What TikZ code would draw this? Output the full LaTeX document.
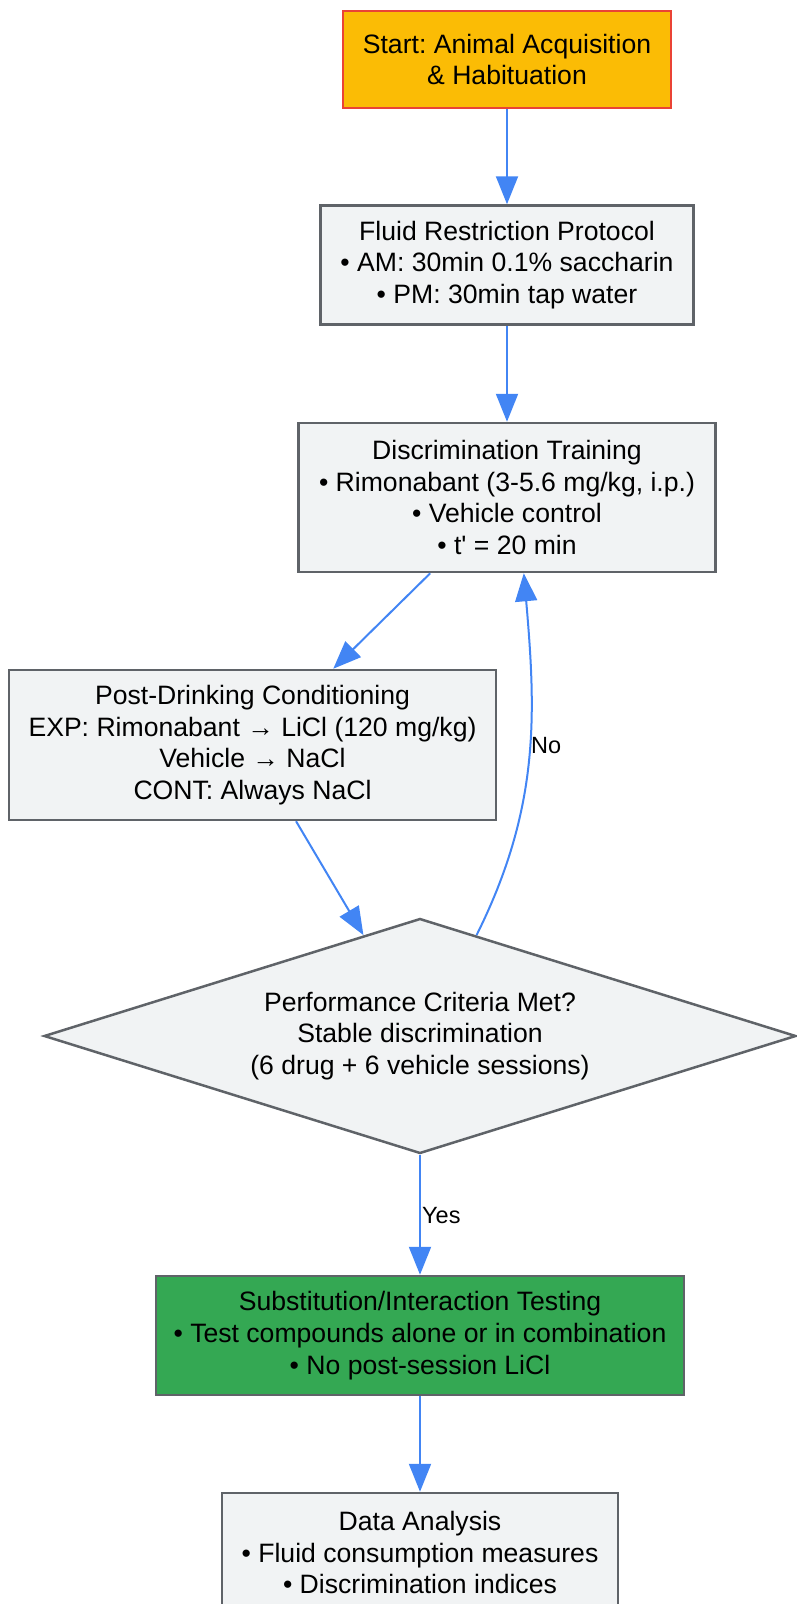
\documentclass[tikz,border=0pt]{standalone}
\usepackage{fontspec}
\setmainfont{Liberation Sans}[Ligatures=TeXOff]
\usetikzlibrary{shapes.geometric,arrows.meta,calc}
\definecolor{startfill}{HTML}{FBBC05}
\definecolor{startdraw}{HTML}{EA4335}
\definecolor{boxfill}{HTML}{F1F3F4}
\definecolor{boxdraw}{HTML}{5F6368}
\definecolor{greenfill}{HTML}{34A853}
\definecolor{arrowc}{HTML}{4285F4}
\frenchspacing
\begin{document}
\begin{tikzpicture}[x=1pt,y=-1pt,
  box/.style={draw=boxdraw, fill=boxfill, line width=2.5pt, align=center, inner sep=0pt,
    font=\fontsize{26.6}{31.7}\selectfont},
  flow/.style={draw=arrowc, line width=2pt, -{Triangle[length=28pt,width=22pt]}},
  lbl/.style={font=\fontsize{23.5}{27}\selectfont, inner sep=1pt}]
\useasboundingbox (0,0) rectangle (796,1604);

\node[box, draw=startdraw, fill=startfill, minimum width=328pt, minimum height=97pt] (start) at (507,59.5)
  {Start: Animal Acquisition\\\& Habituation};
\node[box, minimum width=373pt, minimum height=119pt] (fluid) at (507,265)
  {Fluid Restriction Protocol\\• AM: 30min 0.1\% saccharin\\• PM: 30min tap water};
\node[box, minimum width=417pt, minimum height=149pt] (discrim) at (507,497.5)
  {Discrimination Training\\• Rimonabant (3-5.6 mg/kg, i.p.)\\• Vehicle control\\• t' = 20 min};
\node[box, minimum width=487pt, minimum height=150pt] (post) at (252.5,745)
  {Post-Drinking Conditioning\\EXP: Rimonabant → LiCl (120 mg/kg)\\Vehicle → NaCl\\CONT: Always NaCl};
\node[box, shape=diamond, aspect=3.2, minimum width=752pt, minimum height=235pt] (dia) at (420,1036)
  {Performance Criteria Met?\\Stable discrimination\\(6 drug + 6 vehicle sessions)};
\node[box, fill=greenfill, minimum width=528pt, minimum height=119pt] (sub) at (420,1335.5)
  {Substitution/Interaction Testing\\• Test compounds alone or in combination\\• No post-session LiCl};
\node[box, minimum width=396pt, minimum height=119pt] (data) at (420,1552.5)
  {Data Analysis\\• Fluid consumption measures\\• Discrimination indices};

\draw[flow] (start.south) -- (fluid.north);
\draw[flow] (fluid.south) -- (discrim.north);
\draw[flow] ($(discrim.south west)!0.317!(discrim.south east)$) -- ($(post.north west)!0.665!(post.north east)$);
\draw[flow] ($(post.south west)!0.589!(post.south east)$) -- ($(dia.north)!0.15!(dia.west)$);
\coordinate (noA) at ($(dia.north)!0.15!(dia.east)$);
\coordinate (noB) at ($(discrim.south west)!0.54!(discrim.south east)$);
\draw[flow] (noA) .. controls (540,808) and (536,714) .. (noB);
\node[lbl, anchor=west] (nolbl) at (530,746) {No};
\draw[flow] (dia.south) -- (sub.north);
\node[lbl, anchor=west] (yeslbl) at (421,1216) {Yes};
\draw[flow] (sub.south) -- (data.north);
\end{tikzpicture}
\end{document}
